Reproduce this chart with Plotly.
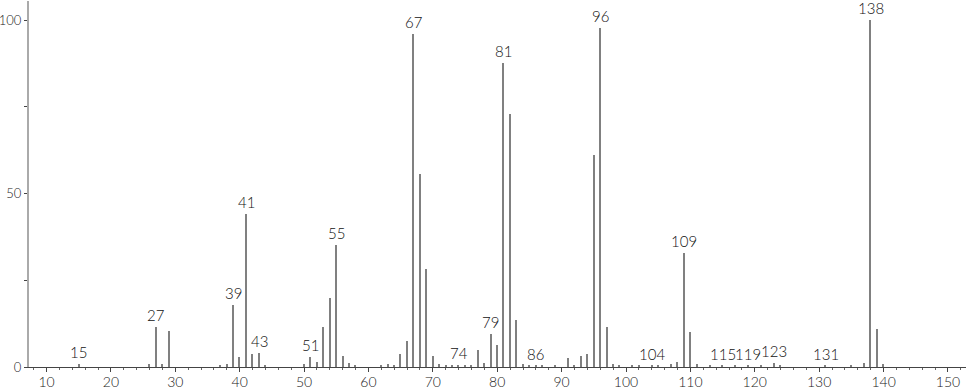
import plotly.graph_objects as go

mz = [15, 26, 27, 28, 29, 37, 38, 39, 40, 41, 42, 43, 44, 50, 51, 52, 53, 54, 55, 56, 57, 58,
      62, 63, 64, 65, 66, 67, 68, 69, 70, 71, 72, 73, 74, 75, 76, 77, 78, 79, 80, 81, 82, 83,
      84, 85, 86, 87, 89, 91, 92, 93, 94, 95, 96, 97, 98, 99, 101, 102, 104, 105, 107, 108,
      109, 110, 111, 113, 115, 117, 119, 121, 123, 124, 131, 135, 137, 138, 139, 140]
intensity = [0.8, 0.8, 11.6, 1.0, 10.3, 0.4, 0.8, 17.8, 2.8, 44.0, 3.7, 3.9, 0.5, 0.9, 2.8, 1.5,
             11.4, 20.0, 35.3, 3.2, 1.2, 0.5, 0.5, 0.8, 0.5, 3.7, 7.4, 95.9, 55.7, 28.2, 3.2, 0.8,
             0.5, 0.3, 0.5, 0.3, 0.5, 4.9, 1.2, 9.5, 6.4, 87.5, 73.0, 13.6, 0.9, 0.3, 0.3, 0.3,
             0.3, 2.7, 0.5, 3.3, 3.7, 61.2, 97.6, 11.5, 0.8, 0.3, 0.3, 0.3, 0.3, 0.3, 0.9, 1.3,
             33.0, 10.0, 0.9, 0.3, 0.3, 0.3, 0.3, 0.3, 1.2, 0.3, 0.3, 0.3, 1.2, 100.0, 11.0, 0.9]
labeled = [15, 27, 39, 41, 43, 51, 55, 67, 74, 79, 81, 86, 96, 104, 109, 115, 119, 123, 131, 138]

x_ticks = list(range(10, 151, 10))
y_ticks = [0, 50, 100]

FONT = "Lato"

fig = go.Figure()
fig.add_trace(go.Bar(x=mz, y=intensity, width=0.22,
                     marker=dict(color="#808080", line=dict(width=0)),
                     hoverinfo="x+y"))

lookup = dict(zip(mz, intensity))
for m in labeled:
    fig.add_annotation(x=m, y=lookup.get(m, 0), text=str(m), showarrow=False,
                       yanchor="bottom", yshift=1,
                       font=dict(family=FONT, size=15, color="#111", weight=300))

fig.update_layout(
    width=966, height=389,
    margin=dict(l=29, r=0, t=1, b=22),
    paper_bgcolor="white", plot_bgcolor="white",
    showlegend=False, bargap=0,
    font=dict(family=FONT, size=14, color="#222"),
)
fig.update_xaxes(range=[7.28, 152.8], tickvals=x_ticks, ticks="outside", ticklen=4,
                 tickcolor="#444", showgrid=False, zeroline=False, automargin=False,
                 showline=True, linecolor="#444", linewidth=1, ticklabelstandoff=-2,
                 minor=dict(dtick=2, tick0=0, ticks="outside", ticklen=2, tickcolor="#666"),
                 tickfont=dict(family=FONT, size=14, color="#222", weight=300))
fig.update_yaxes(range=[0, 105.5], tickvals=y_ticks, ticks="outside", ticklen=3,
                 tickcolor="#444", showgrid=False, zeroline=False, automargin=False,
                 showline=True, linecolor="#aaaaaa", linewidth=2, ticklabelstandoff=0,
                 minor=dict(tickvals=[25, 75], ticks="outside", ticklen=3, tickcolor="#444"),
                 tickfont=dict(family=FONT, size=13, color="#222", weight=300))

fig.write_html("out.html")
